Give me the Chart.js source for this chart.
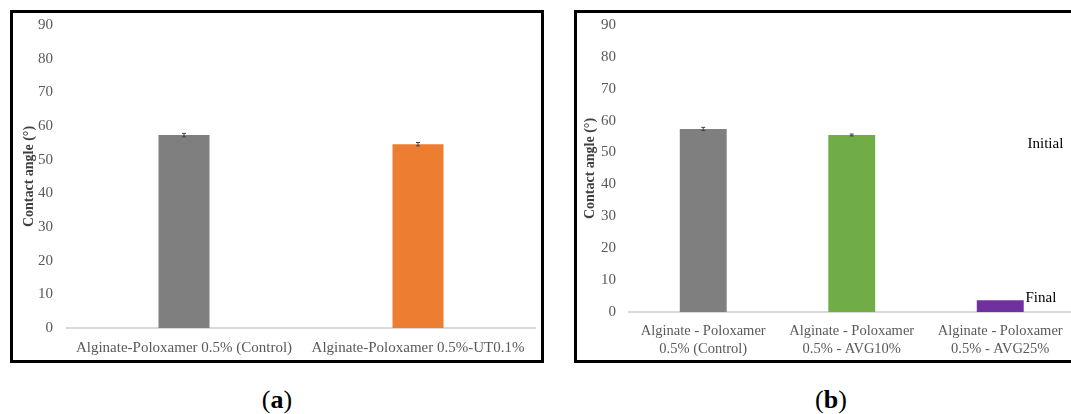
<!DOCTYPE html>
<html>
<head>
<meta charset="utf-8">
<script src="https://cdn.jsdelivr.net/npm/chart.js@4/dist/chart.umd.min.js"></script>
<style>
  html, body { margin: 0; padding: 0; background: #fff; width: 1071px; height: 414px; overflow: hidden; position: relative; }
  .panel { position: absolute; border: 3px solid #000; box-sizing: border-box; background: #fff; overflow: hidden; }
  #pa { left: 10px; top: 10px; width: 534px; height: 353px; }
  #pb { left: 574px; top: 10px; width: 520px; height: 353px; }
  .panel canvas { position: absolute; left: 0; top: 0; }
  .cap { position: absolute; top: 385px; width: 100px; text-align: center; font: 26px "Liberation Serif", serif; color: #000; }
  .cap b { font-weight: bold; }
</style>
</head>
<body>
<div class="panel" id="pa"><canvas id="chartA" width="528" height="347"></canvas></div>
<div class="panel" id="pb"><canvas id="chartB" width="514" height="347"></canvas></div>
<div class="cap" style="left:227px">(<b>a</b>)</div>
<div class="cap" style="left:781px">(<b>b</b>)</div>
<script>
// Panel (a): contact angle, control vs UT0.1%
const labelsA = ['Alginate-Poloxamer 0.5% (Control)', 'Alginate-Poloxamer 0.5%-UT0.1%'];
const valuesA = [57.3, 54.6];
const errorsA = [0.5, 0.5];
const colorsA = ['#7f7f7f', '#ed7d31'];

// Panel (b): contact angle, control vs AVG formulations
const labelsB = [['Alginate - Poloxamer', '0.5% (Control)'], ['Alginate - Poloxamer', '0.5% - AVG10%'], ['Alginate - Poloxamer', '0.5% - AVG25%']];
const valuesB = [57.4, 55.5, 3.7];
const errorsB = [0.5, 0.3, 0];
const colorsB = ['#7f7f7f', '#70ad47', '#7030a0'];

const yTicks = [0, 10, 20, 30, 40, 50, 60, 70, 80, 90];
const FONT = '"Liberation Serif", serif';

// Draws symmetric error bars on top of each bar
const errorBars = {
  id: 'errorBars',
  afterDatasetsDraw(chart) {
    const ctx = chart.ctx;
    const y = chart.scales.y;
    const meta = chart.getDatasetMeta(0);
    const ds = chart.data.datasets[0];
    ctx.save();
    ctx.strokeStyle = '#404040';
    ctx.lineWidth = 1;
    meta.data.forEach((bar, i) => {
      const e = ds.errors[i];
      if (!e) return;
      const v = ds.data[i];
      const top = y.getPixelForValue(v + e), bot = y.getPixelForValue(v - e);
      ctx.beginPath();
      ctx.moveTo(bar.x, top); ctx.lineTo(bar.x, bot);
      ctx.moveTo(bar.x - 2, top); ctx.lineTo(bar.x + 2, top);
      ctx.moveTo(bar.x - 2, bot); ctx.lineTo(bar.x + 2, bot);
      ctx.stroke();
    });
    ctx.restore();
  }
};

// Series name notes written at the right edge of the plot
const seriesNotes = {
  id: 'seriesNotes',
  afterDraw(chart, args, opts) {
    if (!opts.items) return;
    const ctx = chart.ctx;
    const y = chart.scales.y;
    ctx.save();
    ctx.font = '15px ' + FONT;
    ctx.fillStyle = '#000';
    ctx.textAlign = 'left';
    ctx.textBaseline = 'middle';
    opts.items.forEach(it => {
      ctx.fillText(it.text, chart.chartArea.right + it.dx, y.getPixelForValue(it.level));
    });
    ctx.restore();
  }
};

function makeChart(id, labels, values, errors, colors, g) {
  return new Chart(document.getElementById(id), {
    type: 'bar',
    data: {
      labels: labels,
      datasets: [{ data: values, errors: errors, backgroundColor: colors, borderWidth: 0,
                   categoryPercentage: 1, barPercentage: g.barPct }]
    },
    options: {
      responsive: false,
      animation: false,
      layout: { padding: { left: 0, right: g.padRight, top: 12, bottom: 0 } },
      plugins: { legend: { display: false }, tooltip: { enabled: false }, seriesNotes: { items: g.notes } },
      scales: {
        x: {
          z: 1,
          grid: { display: false, drawTicks: false },
          border: { display: true, color: 'rgba(210,210,210,0.85)', width: 2 },
          ticks: { font: { family: FONT, size: g.xFont, lineHeight: 1.25 }, color: '#595959', padding: g.xPad, maxRotation: 0, autoSkip: false },
          afterFit: s => { s.height = g.xHeight; }
        },
        y: {
          min: 0, max: 90,
          afterBuildTicks: s => { s.ticks = yTicks.map(v => ({ value: v })); },
          grid: { display: false, drawTicks: false },
          border: { display: false },
          ticks: { font: { family: FONT, size: 15 }, color: '#595959', padding: g.yPad },
          title: { display: true, text: 'Contact angle (°)', font: { family: FONT, size: 14, weight: 'bold' }, color: '#404040', padding: { top: g.titlePad, bottom: 0 } },
          afterFit: s => { s.width = g.yWidth; s.paddingTop = 0; s.paddingBottom = 0; }
        }
      }
    },
    plugins: [errorBars, seriesNotes]
  });
}

makeChart('chartA', labelsA, valuesA, errorsA, colorsA,
  { barPct: 0.218, padRight: 6, xFont: 15, xPad: 11, xHeight: 32, yPad: 14, yWidth: 54, titlePad: 8, notes: null });
makeChart('chartB', labelsB, valuesB, errorsB, colorsB,
  { barPct: 0.316, padRight: 16.5, xFont: 14.5, xPad: 10, xHeight: 48, yPad: 13, yWidth: 52, titlePad: 5,
    notes: [{ text: 'Initial', level: 52.7, dx: -47 }, { text: 'Final', level: 4.4, dx: -49 }] });
</script>
</body>
</html>
